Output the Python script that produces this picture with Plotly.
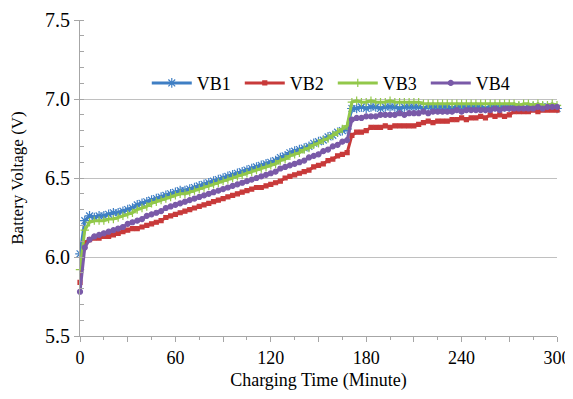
import plotly.graph_objects as go

time_min = list(range(0, 301, 3))

vb1 = [6.02, 6.23, 6.26, 6.25, 6.26, 6.26, 6.27, 6.28, 6.28, 6.29,
       6.30, 6.31, 6.33, 6.34, 6.35, 6.36, 6.37, 6.38, 6.39, 6.40,
       6.41, 6.42, 6.42, 6.43, 6.44, 6.45, 6.46, 6.47, 6.48, 6.49,
       6.50, 6.51, 6.52, 6.53, 6.54, 6.55, 6.56, 6.57, 6.58, 6.59,
       6.60, 6.61, 6.63, 6.64, 6.66, 6.67, 6.68, 6.69, 6.70, 6.72,
       6.73, 6.74, 6.76, 6.77, 6.79, 6.80, 6.81,
       6.94, 6.94, 6.95, 6.94, 6.95, 6.95, 6.94, 6.95, 6.95, 6.95,
       6.94, 6.95, 6.95, 6.95, 6.95, 6.94, 6.95, 6.95, 6.95, 6.95,
       6.95, 6.94, 6.95, 6.95, 6.95, 6.95, 6.95, 6.95, 6.94, 6.95,
       6.95, 6.95, 6.95, 6.95, 6.95, 6.95, 6.94, 6.95, 6.95, 6.95,
       6.95, 6.95, 6.95, 6.94]

vb2 = [5.84, 6.09, 6.11, 6.12, 6.12, 6.13, 6.13, 6.14, 6.15, 6.16,
       6.17, 6.18, 6.18, 6.19, 6.20, 6.21, 6.22, 6.23, 6.25, 6.26,
       6.27, 6.28, 6.29, 6.30, 6.31, 6.32, 6.33, 6.34, 6.35, 6.36,
       6.37, 6.38, 6.39, 6.40, 6.41, 6.42, 6.43, 6.44, 6.44, 6.45,
       6.46, 6.47, 6.48, 6.50, 6.51, 6.52, 6.53, 6.54, 6.55, 6.57,
       6.58, 6.59, 6.61, 6.62, 6.64, 6.65, 6.66,
       6.77, 6.79, 6.79, 6.80, 6.82, 6.82, 6.82, 6.83, 6.82, 6.83,
       6.83, 6.83, 6.83, 6.83, 6.84, 6.85, 6.86, 6.85, 6.86, 6.86,
       6.86, 6.87, 6.87, 6.88, 6.87, 6.88, 6.88, 6.89, 6.88, 6.90,
       6.89, 6.90, 6.89, 6.90, 6.92, 6.92, 6.92, 6.92, 6.93, 6.92,
       6.93, 6.93, 6.93, 6.93]

vb3 = [5.92, 6.17, 6.22, 6.23, 6.23, 6.23, 6.24, 6.24, 6.25, 6.26,
       6.27, 6.28, 6.30, 6.31, 6.32, 6.34, 6.35, 6.36, 6.37, 6.38,
       6.39, 6.40, 6.40, 6.41, 6.42, 6.43, 6.44, 6.45, 6.46, 6.47,
       6.48, 6.49, 6.50, 6.51, 6.52, 6.53, 6.54, 6.55, 6.56, 6.57,
       6.58, 6.59, 6.61, 6.62, 6.64, 6.65, 6.66, 6.68, 6.69, 6.71,
       6.72, 6.74, 6.75, 6.77, 6.79, 6.81, 6.83,
       6.98, 6.99, 6.98, 6.98, 6.99, 6.98, 6.98, 6.98, 6.99, 6.98,
       6.98, 6.98, 6.98, 6.98, 6.98, 6.97, 6.97, 6.97, 6.97, 6.97,
       6.97, 6.97, 6.97, 6.97, 6.97, 6.97, 6.97, 6.97, 6.97, 6.97,
       6.97, 6.97, 6.97, 6.97, 6.97, 6.96, 6.97, 6.97, 6.96, 6.97,
       6.96, 6.96, 6.97, 6.96]

vb4 = [5.78, 6.06, 6.11, 6.13, 6.14, 6.15, 6.16, 6.17, 6.18, 6.19,
       6.21, 6.22, 6.23, 6.24, 6.26, 6.27, 6.28, 6.29, 6.31, 6.32,
       6.33, 6.34, 6.35, 6.36, 6.37, 6.38, 6.39, 6.40, 6.41, 6.42,
       6.43, 6.44, 6.45, 6.46, 6.47, 6.48, 6.49, 6.50, 6.51, 6.52,
       6.53, 6.54, 6.56, 6.57, 6.58, 6.59, 6.60, 6.61, 6.63, 6.64,
       6.65, 6.67, 6.68, 6.70, 6.71, 6.73, 6.74,
       6.87, 6.88, 6.88, 6.89, 6.89, 6.89, 6.90, 6.90, 6.90, 6.90,
       6.91, 6.90, 6.91, 6.91, 6.91, 6.92, 6.91, 6.92, 6.92, 6.92,
       6.92, 6.92, 6.93, 6.92, 6.93, 6.93, 6.93, 6.93, 6.93, 6.93,
       6.94, 6.93, 6.94, 6.94, 6.94, 6.94, 6.94, 6.94, 6.94, 6.95,
       6.94, 6.95, 6.95, 6.95]

series_names = ["VB1", "VB2", "VB3", "VB4"]
series_vals = [vb1, vb2, vb3, vb4]
colors = ["#3F7FC4", "#C83A3A", "#92C84A", "#7A5AA8"]
symbols = ["asterisk", "square", "cross-thin", "circle"]
msizes = [8, 4, 6, 5]

x_tickvals = list(range(0, 301, 30))
x_ticktext = [str(v) if v % 60 == 0 else "" for v in x_tickvals]

fig = go.Figure()
for name, vals, c, s, ms in zip(series_names, series_vals, colors, symbols, msizes):
    fig.add_trace(go.Scatter(
        x=time_min, y=vals, name=name, mode="lines+markers",
        line=dict(color=c, width=3),
        marker=dict(symbol=s, size=ms, color=c, line=dict(color=c, width=1.2)),
        cliponaxis=False,
    ))

serif = "Times New Roman, Liberation Serif, DejaVu Serif, serif"
axis_grey = "#a6a6a6"
# page body has an 8px margin, so the figure is offset to line up with the reference
fig.update_layout(
    width=565, height=383,
    margin=dict(l=72, r=16, t=12, b=55),
    plot_bgcolor="white", paper_bgcolor="white",
    font=dict(family=serif, color="black", size=18),
    legend=dict(orientation="h", x=0.14, y=0.80, xanchor="left", yanchor="middle",
                font=dict(family=serif, size=18), bgcolor="rgba(0,0,0,0)",
                itemwidth=40, entrywidth=38, entrywidthmode="pixels"),
    xaxis=dict(
        range=[0, 300], tickvals=x_tickvals, ticktext=x_ticktext, automargin=False,
        ticks="outside", ticklen=5, tickcolor=axis_grey,
        showline=True, linecolor=axis_grey, linewidth=1, showgrid=False, zeroline=False,
        minor=dict(dtick=15, tick0=0, ticks="outside", ticklen=3, tickcolor=axis_grey),
        tickfont=dict(family=serif, size=18),
        title=dict(text="Charging Time (Minute)", font=dict(family=serif, size=18), standoff=11),
    ),
    yaxis=dict(
        range=[5.5, 7.5], dtick=0.5, tick0=5.5, tickformat=".1f", automargin=False,
        ticks="outside", ticklen=5, tickcolor=axis_grey,
        showline=True, linecolor=axis_grey, linewidth=1,
        showgrid=True, gridcolor="#c0c0c0", gridwidth=1, zeroline=False,
        minor=dict(dtick=0.1, tick0=5.5, ticks="inside", ticklen=4, tickcolor=axis_grey, showgrid=False),
        tickfont=dict(family=serif, size=20),
        title=dict(text="Battery Voltage (V)", font=dict(family=serif, size=17), standoff=17),
    ),
)

fig.write_html("out.html")
